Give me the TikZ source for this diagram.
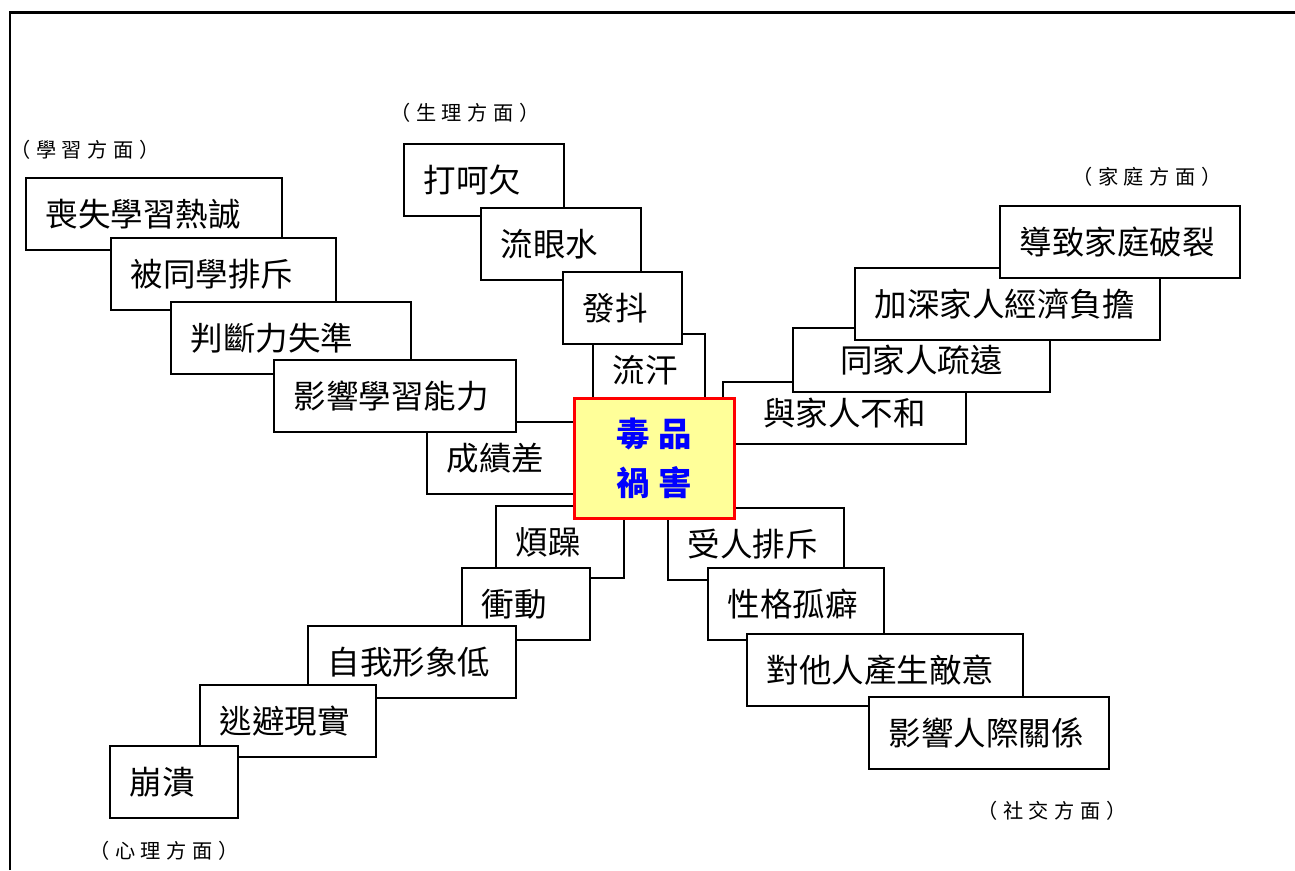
\documentclass[tikz,border=0pt]{standalone}
\usepackage{fontspec}
\newfontfamily\cjk{Noto Sans CJK TC}
\newfontfamily\cjkside[LetterSpace=28]{Noto Sans CJK TC}
\definecolor{paleyellow}{HTML}{FFFF99}
\tikzset{
    effect/.style={draw, line width=1.1pt, fill=white, anchor=north west,
        minimum height=1.44cm, inner xsep=0.4cm, align=left,
        font=\cjk\fontsize{18.5}{22}\selectfont},
    wide/.style={text width=#1*0.02cm-0.8cm},
    aspect/.style={font=\cjkside\fontsize{11.5}{13}\selectfont},
}
\begin{document}
\begin{tikzpicture}[x=0.02cm,y=-0.02cm]
        \useasboundingbox (0,0) rectangle (1295,870);
        %% Frame
        \draw[line width=1.4pt] (10,870) -- (10,12.5) -- (1295,12.5);
        %% Study
        \node[effect,wide=174] (grades) at (426,421) {成績差};
        \node[effect,wide=256] (zeal) at (25,177) {喪失學習熱誠};
        \node[effect,wide=225] (peers) at (110,237) {被同學排斥};
        \node[effect,wide=240] (judgement) at (170,301) {判斷力失準};
        \node[effect,wide=242] (ability) at (273,359) {影響學習能力};
        \node[aspect] (studylbl) at (85,150) {（學習方面）};
        %% Body
        \node[effect,wide=112] (sweat) at (592,333) {流汗};
        \node[effect,wide=160] (yawn) at (403,143) {打呵欠};
        \node[effect,wide=160] (tears) at (480,207) {流眼水};
        \node[effect,wide=119] (tremble) at (562,271) {發抖};
        \node[aspect] (bodylbl) at (465,113) {（生理方面）};
        %% Family
        \node[effect,wide=243,align=center,minimum height=1.24cm] (discord) at (722,381) {與家人不和};
        \node[effect,wide=257,align=center,minimum height=1.28cm] (distant) at (792,327) {同家人疏遠};
        \node[effect,wide=305] (burden) at (854,267) {加深家人經濟負擔};
        \node[effect,wide=240] (breakup) at (999,205) {導致家庭破裂};
        \node[aspect] (familylbl) at (1147,177) {（家庭方面）};
        %% Social
        \node[effect,wide=176] (shunned) at (667,507) {受人排斥};
        \node[effect,wide=176] (aloof) at (707,567) {性格孤癖};
        \node[effect,wide=276] (hostile) at (746,633) {對他人產生敵意};
        \node[effect,wide=240] (relations) at (868,696) {影響人際關係};
        \node[aspect] (sociallbl) at (1052,811) {（社交方面）};
        %% Mind
        \node[effect,wide=128] (irritable) at (495,505) {煩躁};
        \node[effect,wide=128] (impulsive) at (461,567) {衝動};
        \node[effect,wide=208] (selfimage) at (307,625) {自我形象低};
        \node[effect,wide=176] (escape) at (199,684) {逃避現實};
        \node[effect,wide=128] (breakdown) at (109,745) {崩潰};
        \node[aspect] (mindlbl) at (164,851) {（心理方面）};
        %% Centre
        \node[draw=red, line width=1.7pt, fill=paleyellow, anchor=north west,
            minimum width=3.2cm, minimum height=2.4cm, align=center, text=blue,
            font=\cjk\bfseries\fontsize{19}{27.9}\selectfont]
            (harm) at (573,397) {毒\hspace{.25em}品\\禍\hspace{.25em}害};
    \end{tikzpicture}
\end{document}
